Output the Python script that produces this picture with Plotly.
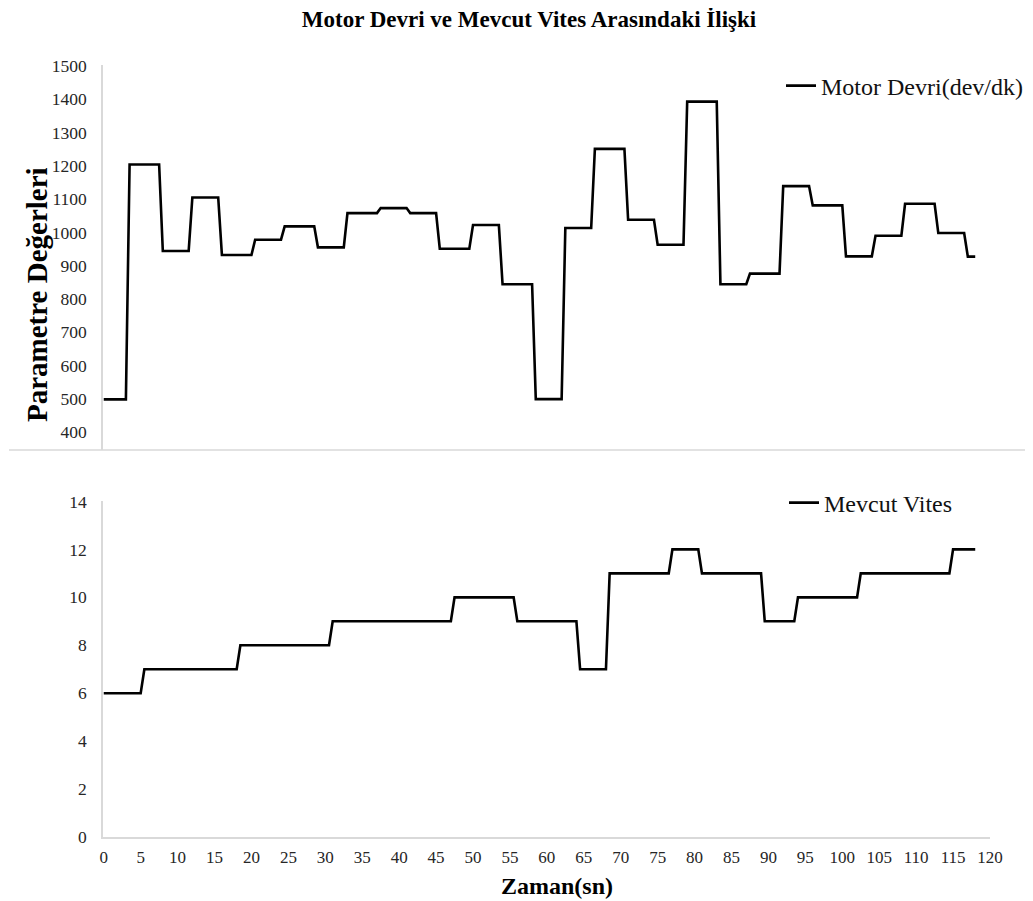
import plotly.graph_objects as go

# Motor Devri (dev/dk) - vertices (time in s)
rpm_time = [0, 3, 3.5, 7.5, 8, 11.5, 12, 15.5, 16, 20, 20.5, 24, 24.5, 28.5, 29, 32.5, 33, 37,
            37.5, 41, 41.5, 45, 45.5, 49.5, 50, 53.5, 54, 58, 58.5, 62, 62.5, 66, 66.5, 70.5,
            71, 74.5, 75, 78.5, 79, 83, 83.5, 87, 87.5, 91.5, 92, 95.5, 96, 100, 100.5, 104,
            104.5, 108, 108.5, 112.5, 113, 116.5, 117, 118]
rpm_value = [498, 498, 1204, 1204, 944, 944, 1105, 1105, 932, 932, 978, 978, 1018, 1018, 955, 955,
             1058, 1058, 1073, 1073, 1058, 1058, 951, 951, 1022, 1022, 844, 844, 499, 499,
             1013, 1013, 1251, 1251, 1038, 1038, 963, 963, 1393, 1393, 844, 844, 876, 876,
             1139, 1139, 1081, 1081, 928, 928, 990, 990, 1086, 1086, 998, 998, 927, 927]

# Mevcut Vites - vertices
gear_time = [0, 5, 5.5, 18, 18.5, 30.5, 31, 47, 47.5, 55.5, 56, 64, 64.5, 68, 68.5, 76.5, 77,
             80.5, 81, 89, 89.5, 93.5, 94, 102, 102.5, 114.5, 115, 118]
gear_value = [6, 6, 7, 7, 8, 8, 9, 9, 10, 10, 9, 9, 7, 7, 11, 11, 12, 12, 11, 11, 9, 9, 10, 10,
              11, 11, 12, 12]

rpm_ticks = list(range(400, 1501, 100))
gear_ticks = list(range(0, 15, 2))
time_ticks = list(range(0, 121, 5))

FONT = "Liberation Serif"
AXC = "#d9d9d9"
TICKC = "#262626"

OFF = 8  # page body margin
W, H = 1033 - OFF, 901 - OFF
L, R, T, B = 103 - OFF, 0, 65 - OFF, 64
PW, PH = W - L - R, H - T - B
X_END = 990  # page pixel where the x axis ends


def px_x(p):
    return (p - OFF - L) / PW


def px_y(p):
    return (H - B - (p - OFF)) / PH


fig = go.Figure()
fig.add_trace(go.Scatter(x=rpm_time, y=rpm_value, mode="lines", name="Motor Devri(dev/dk)",
                         line=dict(color="black", width=2.6), xaxis="x2", yaxis="y2",
                         legend="legend"))
fig.add_trace(go.Scatter(x=gear_time, y=gear_value, mode="lines", name="Mevcut Vites",
                         line=dict(color="black", width=2.6), xaxis="x", yaxis="y",
                         legend="legend2"))

top_bottom = px_y(450)
bot_top = px_y(501)
x_dom = [0, px_x(X_END)]

fig.update_layout(
    width=W, height=H,
    margin=dict(l=L, r=R, t=T, b=B, autoexpand=False),
    paper_bgcolor="white", plot_bgcolor="white",
    font=dict(family=FONT, color=TICKC, size=16),
    title=dict(text="<b>Motor Devri ve Mevcut Vites Arasındaki İlişki</b>",
               x=px_x(529), xref="paper", xanchor="center",
               y=1 - (19 - OFF) / H, yref="container", yanchor="middle",
               font=dict(family=FONT, size=23, color="black")),
    xaxis=dict(domain=x_dom, range=[-0.1, 120], anchor="y", tickvals=time_ticks,
               showline=True, linecolor=AXC, linewidth=1.5, showgrid=False, zeroline=False,
               ticks="", ticklabelstandoff=4,
               tickfont=dict(family=FONT, size=17, color=TICKC)),
    yaxis=dict(domain=[0, bot_top], range=[0, 14.02], anchor="x", tickvals=gear_ticks,
               showline=True, linecolor=AXC, linewidth=1.5, showgrid=False, zeroline=False,
               ticks="", ticklabelstandoff=11,
               tickfont=dict(family=FONT, size=17.5, color=TICKC)),
    xaxis2=dict(domain=x_dom, range=[-0.1, 120], anchor="y2", matches="x", visible=False),
    yaxis2=dict(domain=[top_bottom, 1], range=[346, 1503], anchor="x2", tickvals=rpm_ticks,
                showline=True, linecolor=AXC, linewidth=1.5, showgrid=False, zeroline=False,
                ticks="", ticklabelstandoff=11,
                tickfont=dict(family=FONT, size=17.5, color=TICKC)),
    legend=dict(x=px_x(781), y=px_y(86), xanchor="left", yanchor="middle",
                font=dict(family=FONT, size=24, color="#111111"), bgcolor="rgba(0,0,0,0)",
                itemwidth=30),
    legend2=dict(x=px_x(784), y=px_y(503), xanchor="left", yanchor="middle",
                 font=dict(family=FONT, size=24, color="#111111"), bgcolor="rgba(0,0,0,0)",
                 itemwidth=30),
    showlegend=True,
    shapes=[dict(type="line", xref="paper", yref="paper", x0=px_x(9), x1=px_x(1040),
                 y0=top_bottom, y1=top_bottom, line=dict(color=AXC, width=1.5))],
    annotations=[
        dict(text="<b>Parametre Değerleri</b>", textangle=-90, xref="paper", yref="paper",
             x=px_x(37), y=px_y(295), xanchor="center", yanchor="middle", showarrow=False,
             font=dict(family=FONT, size=29, color="black")),
        dict(text="<b>Zaman(sn)</b>", xref="paper", yref="paper",
             x=px_x(557), y=px_y(886), xanchor="center", yanchor="middle", showarrow=False,
             font=dict(family=FONT, size=24, color="black")),
    ],
)

fig.write_html("out.html")
